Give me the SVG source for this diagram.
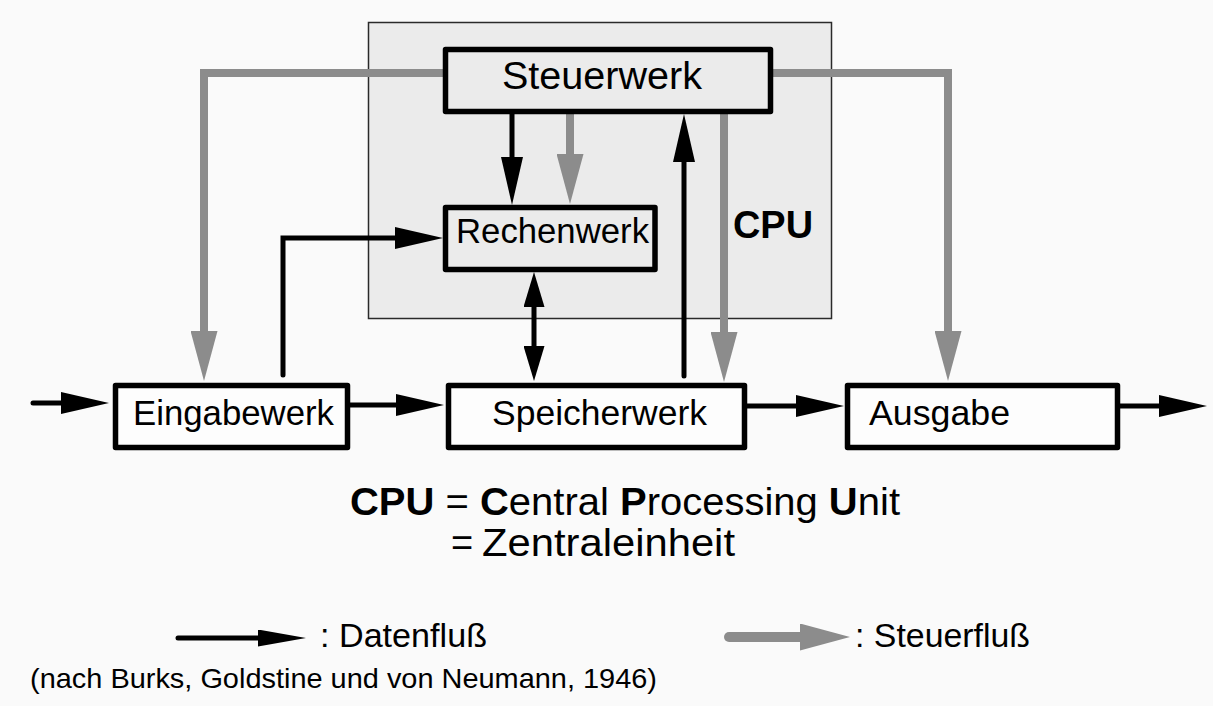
<svg xmlns="http://www.w3.org/2000/svg" width="1213" height="706" viewBox="0 0 1213 706">
<style>
text{font-family:"Liberation Sans",Arial,sans-serif;fill:#000}
.box{stroke:#000;stroke-width:5.5;stroke-linejoin:round}
.in{fill:#ebebeb}
.out{fill:#fdfdfd}
.lbl{font-size:35px;text-anchor:start}
.d{fill:none;stroke:#000;stroke-width:5;stroke-linecap:round;stroke-linejoin:miter}
.c{fill:none;stroke:#8c8c8c;stroke-width:8;stroke-linecap:butt;stroke-linejoin:miter}
</style>
<defs>
<marker id="ad" markerUnits="userSpaceOnUse" markerWidth="48" markerHeight="22" viewBox="0 0 48 22" refX="1" refY="11" orient="auto"><path d="M0,0 L48,11 L0,22 Z" fill="#000"/></marker>
<marker id="ads" markerUnits="userSpaceOnUse" markerWidth="35" markerHeight="21" viewBox="0 0 35 21" refX="1" refY="10.5" orient="auto-start-reverse"><path d="M0,0 L35,10.5 L0,21 Z" fill="#000"/></marker>
<marker id="adl" markerUnits="userSpaceOnUse" markerWidth="48" markerHeight="17" viewBox="0 0 48 17" refX="1" refY="8.5" orient="auto"><path d="M0,0 L48,8.5 L0,17 Z" fill="#000"/></marker>
<marker id="ac" markerUnits="userSpaceOnUse" markerWidth="50" markerHeight="27" viewBox="0 0 50 27" refX="1" refY="13.5" orient="auto"><path d="M0,0 L50,13.5 L0,27 Z" fill="#8c8c8c"/></marker>
</defs>
<rect x="0" y="0" width="1213" height="706" fill="#fafafa"/>
<g id="cpu">
<rect x="368.5" y="22.5" width="463" height="296" fill="#ebebeb" stroke="#2a2a2a" stroke-width="1.5"/>
<text x="733" y="238" font-size="38" font-weight="bold" textLength="80" lengthAdjust="spacingAndGlyphs">CPU</text>
</g>
<g id="connectors">
<path class="c" d="M445,73 H204 V332" marker-end="url(#ac)"/>
<path class="c" d="M771,73 H948 V332" marker-end="url(#ac)"/>
<path class="c" d="M570,114 V155" marker-end="url(#ac)"/>
<path class="c" d="M724,114 V333" marker-end="url(#ac)"/>
<path class="d" d="M512,114 V158" marker-end="url(#ad)"/>
<path class="d" d="M684,376 V161" marker-end="url(#ad)"/>
<path class="d" d="M534,306 V347" marker-start="url(#ads)" marker-end="url(#ads)"/>
<path class="d" d="M283,375 V238 H396" marker-end="url(#ad)"/>
<path class="d" d="M33,403 H62" marker-end="url(#ad)"/>
<path class="d" d="M350,405 H397" marker-end="url(#ad)"/>
<path class="d" d="M747,406 H797" marker-end="url(#ad)"/>
<path class="d" d="M1120,406 H1160" marker-end="url(#ad)"/>
</g>
<g id="steuerwerk">
<rect class="box in" x="445.5" y="49.5" width="325" height="62"/>
<text x="502" y="89" font-size="38" textLength="200" lengthAdjust="spacingAndGlyphs">Steuerwerk</text>
</g>
<g id="rechenwerk">
<rect class="box in" x="445.5" y="207.5" width="209.5" height="62"/>
<text class="lbl" x="456" y="243" textLength="193" lengthAdjust="spacingAndGlyphs">Rechenwerk</text>
</g>
<g id="eingabewerk">
<rect class="box out" x="115.5" y="385.5" width="232" height="62"/>
<text class="lbl" x="133" y="425" textLength="201" lengthAdjust="spacingAndGlyphs">Eingabewerk</text>
</g>
<g id="speicherwerk">
<rect class="box out" x="448.5" y="385.5" width="296" height="62"/>
<text class="lbl" x="492" y="425" textLength="215" lengthAdjust="spacingAndGlyphs">Speicherwerk</text>
</g>
<g id="ausgabe">
<rect class="box out" x="847.5" y="385.5" width="270" height="62"/>
<text class="lbl" x="869" y="425" textLength="141" lengthAdjust="spacingAndGlyphs">Ausgabe</text>
</g>
<g id="definition">
<text x="350" y="515" font-size="38" textLength="550" lengthAdjust="spacingAndGlyphs"><tspan font-weight="bold">CPU</tspan> = <tspan font-weight="bold">C</tspan>entral <tspan font-weight="bold">P</tspan>rocessing <tspan font-weight="bold">U</tspan>nit</text>
<text x="451" y="556" font-size="38">=</text>
<text x="482" y="556" font-size="38" textLength="253" lengthAdjust="spacingAndGlyphs">Zentraleinheit</text>
</g>
<g id="legend">
<path class="d" d="M178,638 H259" marker-end="url(#adl)"/>
<text x="320" y="647" font-size="33" textLength="167" lengthAdjust="spacingAndGlyphs">: Datenfluß</text>
<path d="M729,637 H801" fill="none" stroke="#8c8c8c" stroke-width="10" stroke-linecap="round" marker-end="url(#ac)"/>
<text x="855" y="647" font-size="33" textLength="175" lengthAdjust="spacingAndGlyphs">: Steuerfluß</text>
<text x="30" y="688" font-size="28" textLength="627" lengthAdjust="spacingAndGlyphs">(nach Burks, Goldstine und von Neumann, 1946)</text>
</g>
</svg>
